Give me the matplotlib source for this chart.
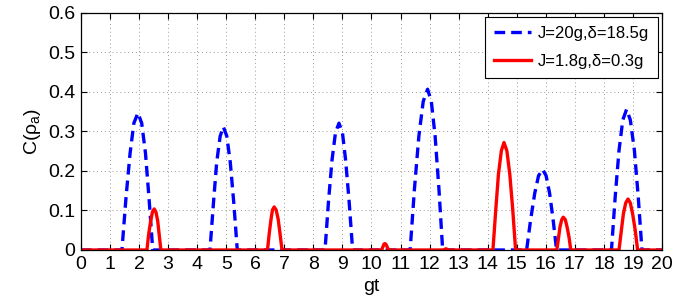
import numpy as np
import matplotlib.pyplot as plt

plt.rcParams['font.family'] = ['Liberation Sans', 'DejaVu Sans']
plt.rcParams['mathtext.default'] = 'regular'

# curva J=20g, delta=18.5g
t_azul = [0.0,
          1.41, 1.55, 1.69, 1.82, 1.96, 2.09, 2.22, 2.34, 2.47,
          4.44, 4.56, 4.67, 4.79, 4.90, 5.02, 5.14, 5.26, 5.38,
          8.40, 8.52, 8.64, 8.76, 8.88, 9.00, 9.11, 9.23, 9.35,
          11.33, 11.48, 11.63, 11.78, 11.93, 12.06, 12.19, 12.32, 12.45,
          15.34, 15.48, 15.62, 15.75, 15.89, 16.01, 16.13, 16.25, 16.37,
          18.26, 18.39, 18.52, 18.65, 18.78, 18.91, 19.05, 19.18, 19.31,
          20.0]
c_azul = [0.0,
          0, .133, .245, .321, .347, .321, .245, .133, 0,
          0, .119, .221, .288, .312, .288, .221, .119, 0,
          0, .123, .227, .297, .321, .297, .227, .123, 0,
          0, .156, .288, .376, .407, .376, .288, .156, 0,
          0, .078, .144, .188, .204, .188, .144, .078, 0,
          0, .136, .252, .329, .356, .329, .252, .136, 0,
          0.0]

# curva J=1.8g, delta=0.3g
t_rojo = [0.0,
          2.27, 2.33, 2.40, 2.46, 2.52, 2.58, 2.64, 2.69, 2.75,
          6.42, 6.48, 6.54, 6.59, 6.65, 6.72, 6.79, 6.85, 6.92,
          10.35, 10.38, 10.41, 10.43, 10.46, 10.49, 10.52, 10.55, 10.58,
          12.50, 12.53, 12.56, 12.60, 12.63,
          14.18, 14.28, 14.37, 14.47, 14.56, 14.66, 14.76, 14.86, 14.96,
          16.38, 16.44, 16.49, 16.55, 16.60, 16.67, 16.73, 16.80, 16.86,
          18.52, 18.60, 18.67, 18.75, 18.83, 18.91, 18.99, 19.08, 19.16,
          20.0]
c_rojo = [0.0,
          0, .040, .074, .096, .104, .096, .074, .040, 0,
          0, .042, .077, .101, .109, .101, .077, .042, 0,
          0, .006, .011, .015, .016, .015, .011, .006, 0,
          0, .002, .003, .002, 0,
          0, .104, .192, .251, .272, .251, .192, .104, 0,
          0, .032, .059, .077, .083, .077, .059, .032, 0,
          0, .049, .091, .119, .129, .119, .091, .049, 0,
          0.0]

xticks = np.arange(0, 21, 1)
yticks = [0, 0.1, 0.2, 0.3, 0.4, 0.5, 0.6]
ytick_labels = ['0', '0.1', '0.2', '0.3', '0.4', '0.5', '0.6']

fig = plt.figure(figsize=(6.76, 3.07), dpi=100)
ax = fig.add_axes([0.1198, 0.1857, 0.8595, 0.772])

ax.plot(t_azul, c_azul, color='blue', lw=2.4, dashes=(3.2, 1.8), label='J=20g,δ=18.5g')
ax.plot(t_rojo, c_rojo, color='red', lw=2.4, label='J=1.8g,δ=0.3g')

ax.set_xlim(0, 20)
ax.set_ylim(0, 0.6)
ax.set_xticks(xticks)
ax.set_yticks(yticks)
ax.set_yticklabels(ytick_labels)
ax.tick_params(direction='in', top=True, right=True, labelsize=14, length=4, pad=4)
ax.grid(True, linestyle=(0, (1, 3)), color='0.6', lw=0.7)
for s in ax.spines.values():
    s.set_linewidth(0.9)

ax.set_xlabel('gt', fontsize=14, labelpad=4)
ax.set_ylabel('C(ρ$_{a}$)', fontsize=14, labelpad=4)

leg = ax.legend(loc='upper right', fontsize=12, handlelength=2.2, fancybox=False,
                edgecolor='black', framealpha=1, borderaxespad=0.25,
                labelspacing=0.75, borderpad=0.55, handletextpad=0.4)
leg.get_frame().set_linewidth(0.8)

fig.savefig('out.png', dpi=100)
